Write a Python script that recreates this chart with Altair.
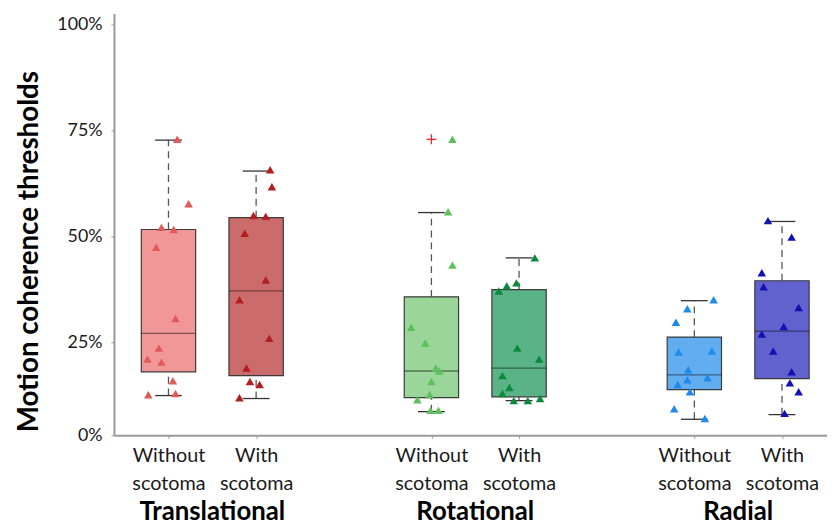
import altair as alt
import pandas as pd

# ---------------- data ----------------
conditions = ["Translational without", "Translational with",
              "Rotational without", "Rotational with",
              "Radial without", "Radial with"]
positions = [1, 2, 4, 5, 7, 8]

groups = ["Translational", "Rotational", "Radial"]
group_positions = [1.5, 4.5, 7.5]

label_without = ["Without", "scotoma"]
label_with = ["With", "scotoma"]

# box statistics (percent)
q1 = [18.0, 17.1, 11.9, 12.1, 13.8, 16.4]
median = [27.1, 37.1, 18.2, 18.9, 17.3, 27.6]
q3 = [51.6, 54.4, 35.7, 37.4, 26.2, 39.5]
whisker_lo = [12.4, 11.7, 8.6, 11.2, 6.8, 7.9]
whisker_hi = [72.7, 65.4, 55.6, 44.9, 34.8, 53.5]

# individual thresholds (percent) and their horizontal jitter
values_trans_without = [72.9, 57.7, 52.1, 51.6, 47.4, 30.6, 23.6, 21.0, 20.3, 15.9, 12.6, 12.9]
jitter_trans_without = [0.10, 0.23, -0.08, 0.06, -0.14, 0.08, -0.11, -0.24, -0.08, 0.05, -0.23, 0.08]
values_trans_with = [65.7, 61.7, 54.9, 54.7, 50.7, 39.7, 35.0, 25.9, 18.9, 15.7, 15.0, 11.9]
jitter_trans_with = [0.16, 0.18, -0.03, 0.11, -0.13, 0.11, -0.19, 0.15, -0.11, -0.07, 0.04, -0.19]
values_rot_without = [72.9, 55.8, 43.2, 28.5, 24.8, 18.9, 18.2, 15.7, 12.6, 11.4, 8.9, 8.9]
jitter_rot_without = [0.24, 0.19, 0.24, -0.23, -0.07, 0.05, 0.09, 0.0, -0.02, -0.16, -0.01, 0.08]
values_rot_with = [44.9, 39.0, 38.3, 37.1, 23.6, 21.0, 17.1, 14.3, 12.9, 11.2, 11.2, 11.7]
jitter_rot_with = [0.18, -0.03, -0.14, -0.23, -0.02, 0.23, -0.19, -0.11, -0.19, -0.06, 0.10, 0.24]
values_rad_without = [35.0, 32.9, 29.7, 22.7, 22.9, 18.5, 16.1, 16.6, 15.0, 13.3, 9.3, 7.0]
jitter_rad_without = [0.22, -0.08, -0.21, -0.18, 0.20, -0.07, -0.08, 0.15, -0.19, -0.05, -0.23, 0.12]
values_rad_with = [53.7, 49.8, 41.4, 38.1, 33.2, 28.7, 26.9, 22.9, 18.0, 15.4, 13.3, 8.2]
jitter_rad_with = [-0.16, 0.11, -0.23, -0.21, 0.19, 0.02, -0.23, -0.10, 0.11, 0.09, 0.19, 0.03]

outlier_condition = ["Rotational without"]
outlier_value = [72.9]

box_colors = ["#F29797", "#CC6B6B", "#9AD59A", "#5AB287", "#62ACF0", "#6262CF"]
point_colors = ["#E05A5A", "#B21F1F", "#5DC05D", "#0C8A3C", "#1E8BEB", "#1212B4"]

# ---------------- tables ----------------
box_df = pd.DataFrame({
    "cond": conditions, "pos": positions, "q1": q1, "median": median,
    "q3": q3, "wlo": whisker_lo, "whi": whisker_hi,
})

all_values = [values_trans_without, values_trans_with, values_rot_without,
              values_rot_with, values_rad_without, values_rad_with]
all_jitter = [jitter_trans_without, jitter_trans_with, jitter_rot_without,
              jitter_rot_with, jitter_rad_without, jitter_rad_with]
rows = []
for c, p, vals, jit in zip(conditions, positions, all_values, all_jitter):
    for v, j in zip(vals, jit):
        rows.append({"cond": c, "pos": p, "jitter": j, "value": v})
points_df = pd.DataFrame(rows)

outlier_df = pd.DataFrame({
    "cond": outlier_condition,
    "pos": [positions[conditions.index(c)] for c in outlier_condition],
    "value": outlier_value,
})

group_df = pd.DataFrame({"group": groups, "gpos": group_positions})

# ---------------- scales / axes ----------------
FONT = "Lato"
W, H = 720, 426
x_scale = alt.Scale(domain=[0.378, 0.378 + W / 88.5], nice=False, zero=False)
y_scale = alt.Scale(domain=[3.0, 102.6], nice=False, zero=False)

without_pos = [p for p, c in zip(positions, conditions) if c.endswith("without")]
label_expr = ("indexof(%s, datum.value) >= 0 ? ['%s','%s'] : ['%s','%s']"
              % (str(without_pos), label_without[0], label_without[1],
                 label_with[0], label_with[1]))

common_axis = dict(grid=False, domainColor="#9a9a9a", domainWidth=2,
                   tickColor="#9a9a9a", tickSize=3, labelFont=FONT, titleFont=FONT)

x_axis = alt.Axis(values=positions, labelExpr=label_expr, title=None,
                  labelFontSize=20, labelLineHeight=29, labelPadding=7,
                  labelBaseline="top", labelColor="#1a1a1a", **common_axis)
y_axis = alt.Axis(values=[3, 25, 50, 75, 100],
                  labelExpr="datum.value < 5 ? '0%' : datum.value + '%'",
                  title="Motion coherence thresholds", titleFontSize=28,
                  titleFontWeight="bold", titleX=-85, titleY=240,
                  titleAlign="center", titleBaseline="middle", titleAngle=-90,
                  titleColor="#000000",
                  labelFontSize=18, labelPadding=9, labelColor="#1a1a1a",
                  **common_axis)

X = alt.X("pos:Q", scale=x_scale, axis=x_axis)
Y = alt.Y("value:Q", scale=y_scale, axis=y_axis)

base_box = alt.Chart(box_df)

whisker_up = base_box.mark_rule(color="#555555", strokeWidth=1.3, strokeDash=[7, 5]).encode(
    x=X, y=alt.Y("q3:Q", scale=y_scale, axis=y_axis), y2="whi:Q")
whisker_down = base_box.mark_rule(color="#555555", strokeWidth=1.3, strokeDash=[7, 5]).encode(
    x=X, y=alt.Y("wlo:Q", scale=y_scale, axis=y_axis), y2="q1:Q")

cap_hi = base_box.transform_calculate(xl="datum.pos - 0.153", xr="datum.pos + 0.153").mark_rule(
    color="#333333", strokeWidth=1.3).encode(
    x=alt.X("xl:Q", scale=x_scale, axis=x_axis), x2="xr:Q",
    y=alt.Y("whi:Q", scale=y_scale, axis=y_axis))
cap_lo = base_box.transform_calculate(xl="datum.pos - 0.153", xr="datum.pos + 0.153").mark_rule(
    color="#333333", strokeWidth=1.3).encode(
    x=alt.X("xl:Q", scale=x_scale, axis=x_axis), x2="xr:Q",
    y=alt.Y("wlo:Q", scale=y_scale, axis=y_axis))

boxes = base_box.transform_calculate(xl="datum.pos - 0.31", xr="datum.pos + 0.31").mark_rect(
    stroke="#3a3a3a", strokeWidth=1.2).encode(
    x=alt.X("xl:Q", scale=x_scale, axis=x_axis), x2="xr:Q",
    y=alt.Y("q1:Q", scale=y_scale, axis=y_axis), y2="q3:Q",
    fill=alt.Fill("cond:N", scale=alt.Scale(domain=conditions, range=box_colors), legend=None))

medians = base_box.transform_calculate(xl="datum.pos - 0.31", xr="datum.pos + 0.31").mark_rule(
    color="#000000", opacity=0.45, strokeWidth=1.3).encode(
    x=alt.X("xl:Q", scale=x_scale, axis=x_axis), x2="xr:Q",
    y=alt.Y("median:Q", scale=y_scale, axis=y_axis))

points = alt.Chart(points_df).transform_calculate(px="datum.pos + datum.jitter").mark_point(
    shape="triangle-up", filled=True, size=75, opacity=1).encode(
    x=alt.X("px:Q", scale=x_scale, axis=x_axis), y=Y,
    color=alt.Color("cond:N", scale=alt.Scale(domain=conditions, range=point_colors), legend=None))

outliers = alt.Chart(outlier_df).mark_point(
    shape="M-1,0L1,0M0,-1L0,1", filled=False, size=100, color="#FF2020", strokeWidth=1.3,
    opacity=1).encode(x=X, y=Y)

group_labels = alt.Chart(group_df).mark_text(
    fontSize=26, fontWeight="bold", font=FONT, color="#000000", baseline="alphabetic").encode(
    x=alt.X("gpos:Q", scale=x_scale, axis=x_axis), y=alt.value(H + 85), text="group:N")

chart = alt.layer(
    whisker_up, whisker_down, cap_hi, cap_lo, boxes, medians, points, outliers, group_labels
).resolve_scale(color="independent", fill="independent").properties(
    width=W, height=H,
    background="white",
    autosize=alt.AutoSizeParams(type="none"),
    padding={"left": 107, "top": 3, "right": 0, "bottom": 92},
).configure_view(stroke=None)

chart.save("out.html", embed_options={"renderer": "svg", "actions": False})
